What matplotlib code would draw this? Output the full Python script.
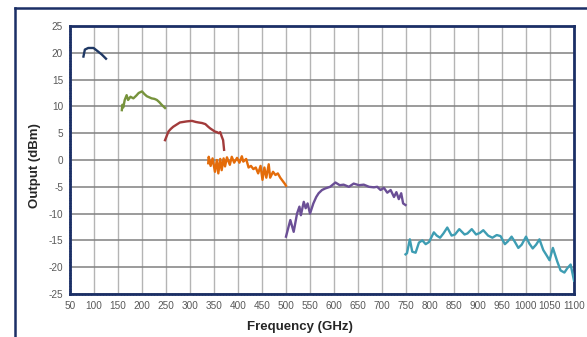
"""Output power vs frequency for six multiplier bands."""

import matplotlib
matplotlib.use("Agg")
import matplotlib.pyplot as plt  # noqa: E402
from matplotlib.lines import Line2D  # noqa: E402
from matplotlib.ticker import MultipleLocator  # noqa: E402

plt.rcParams["axes.unicode_minus"] = False

NAVY = "#1b2f66"
TICK_COLOR = "#595959"
LABEL_COLOR = "#262626"
FONT = ["Liberation Sans", "DejaVu Sans"]

# band 1 (WR-10)
f1 = [78, 81, 88, 99, 109, 116, 125]
p1 = [19.3, 20.6, 20.9, 20.9, 20.2, 19.7, 18.9]

# band 2
f2 = [158, 159, 161, 164, 168, 171, 176, 182, 188, 193, 200, 205, 210, 215,
      220, 226, 231, 236, 241, 248]
p2 = [9.3, 10.3, 9.8, 11.2, 12.1, 11.2, 11.8, 11.5, 12.0, 12.5, 12.8, 12.3,
      11.9, 11.7, 11.5, 11.4, 11.2, 10.8, 10.3, 9.7]

# band 3
f3 = [248, 252, 255, 260, 265, 272, 279, 286, 293, 304, 312, 318, 325, 332,
      338, 342, 347, 352, 356, 360, 363, 366, 369, 371]
p3 = [3.7, 4.6, 5.3, 5.8, 6.2, 6.6, 7.0, 7.1, 7.2, 7.3, 7.1, 7.0, 6.9, 6.7,
      6.2, 5.9, 5.6, 5.3, 5.2, 5.0, 5.2, 4.4, 3.7, 1.9]

# band 4
f4 = [338, 339, 343, 347, 352, 356, 359, 363, 366, 370, 373, 377, 383, 387,
      392, 398, 403, 408, 411, 417, 422, 427, 432, 437, 442, 447, 451, 455,
      459, 464, 467, 473, 478, 483, 488, 493, 498, 500]
p4 = [-0.6, 0.6, -1.1, 0.3, -2.2, 0.0, -2.5, 0.2, -1.9, 0.3, -1.2, 0.5, -0.9,
      0.6, -0.5, 0.4, -0.5, 0.7, -0.3, 0.2, -1.4, -1.1, -1.7, -1.4, -2.5,
      -1.1, -3.7, -1.4, -3.3, -0.8, -3.3, -2.2, -2.8, -2.5, -3.3, -3.9, -4.5,
      -4.8]

# band 5
f5 = [500, 509, 516, 523, 528, 531, 537, 541, 545, 550, 557, 563, 568, 575,
      582, 592, 603, 612, 620, 631, 641, 652, 662, 673, 683, 690, 697, 704,
      711, 718, 725, 730, 735, 740, 744, 749]
p5 = [-14.3, -11.2, -13.4, -10.0, -8.7, -10.3, -7.8, -9.0, -8.1, -10.0, -8.1,
      -6.9, -6.2, -5.6, -5.3, -5.0, -4.2, -4.7, -4.6, -5.0, -4.4, -4.7, -4.6,
      -5.0, -5.1, -5.0, -5.6, -5.2, -6.1, -5.6, -6.9, -6.0, -7.3, -6.2, -8.1,
      -8.4]

# band 6
f6 = [749, 752, 758, 763, 770, 777, 784, 791, 798, 808, 814, 821, 828, 836,
      845, 852, 861, 872, 878, 887, 896, 904, 911, 921, 930, 939, 947, 956,
      962, 970, 977, 984, 991, 1000, 1007, 1014, 1021, 1028, 1036, 1043,
      1049, 1056, 1065, 1072, 1080, 1086, 1093, 1100]
p6 = [-17.6, -17.4, -14.8, -17.1, -17.3, -15.4, -15.0, -15.7, -15.3, -13.5,
      -14.1, -14.5, -13.7, -12.6, -14.1, -13.9, -12.9, -13.9, -13.7, -12.9,
      -13.9, -13.6, -13.1, -14.1, -14.5, -14.0, -14.2, -15.7, -15.2, -14.3,
      -15.3, -16.4, -15.8, -14.3, -15.6, -16.5, -15.8, -14.8, -16.8, -17.8,
      -18.7, -16.4, -18.9, -20.6, -21.0, -20.2, -19.5, -22.5]

bands = [
    (f1, p1, "#1f3864"),
    (f2, p2, "#77933c"),
    (f3, p3, "#a23b3b"),
    (f4, p4, "#e46c0a"),
    (f5, p5, "#6b4f96"),
    (f6, p6, "#3e9db3"),
]

x_ticks = list(range(50, 1101, 50))
y_ticks = list(range(-25, 26, 5))

fig = plt.figure(figsize=(5.87, 3.37), dpi=100)
fig.patch.set_facecolor("white")
ax = fig.add_axes([70 / 587, 1 - 294 / 337, 504 / 587, 268 / 337])

for f, p, c in bands:
    ax.plot(f, p, color=c, linewidth=1.7, solid_joinstyle="round", zorder=3)

ax.set_xlim(50, 1100)
ax.set_ylim(-25, 25)
ax.set_xticks(x_ticks)
ax.set_yticks(y_ticks)
ax.xaxis.set_minor_locator(MultipleLocator(6.25))
ax.yaxis.set_minor_locator(MultipleLocator(0.5))

for tick_label in ax.get_xticklabels() + ax.get_yticklabels():
    tick_label.set_family(FONT)
ax.tick_params(which="major", length=0, colors=TICK_COLOR, labelsize=7.2,
               pad=5)
ax.tick_params(which="minor", length=1.5, width=1, color=NAVY,
               direction="inout")

# grid: darker horizontal, lighter vertical
ax.yaxis.grid(True, which="major", color="#808080", linewidth=1.1)
ax.xaxis.grid(True, which="major", color="#b4b4b4", linewidth=1.0)
ax.set_axisbelow(True)

for spine in ax.spines.values():
    spine.set_color(NAVY)
    spine.set_linewidth(2)

ax.set_xlabel("Frequency (GHz)", family=FONT, fontsize=9.5,
              fontweight="bold", color=LABEL_COLOR)
ax.set_ylabel("Output (dBm)", family=FONT, fontsize=9.5,
              fontweight="bold", color=LABEL_COLOR)
ax.xaxis.set_label_coords(0.456, -0.123)
ax.yaxis.set_label_coords(-0.069, 0.478)
ax.xaxis.label.set_va("center")
ax.yaxis.label.set_va("center")

# outer chart frame, cut by the image edge on right and bottom
fig.add_artist(Line2D([15 / 587, 15 / 587], [0, 1 - 8 / 337],
                      transform=fig.transFigure, color=NAVY, linewidth=1.8))
fig.add_artist(Line2D([15 / 587, 1], [1 - 8 / 337, 1 - 8 / 337],
                      transform=fig.transFigure, color=NAVY, linewidth=1.8))

fig.savefig("out.png", facecolor="white")
plt.close(fig)
